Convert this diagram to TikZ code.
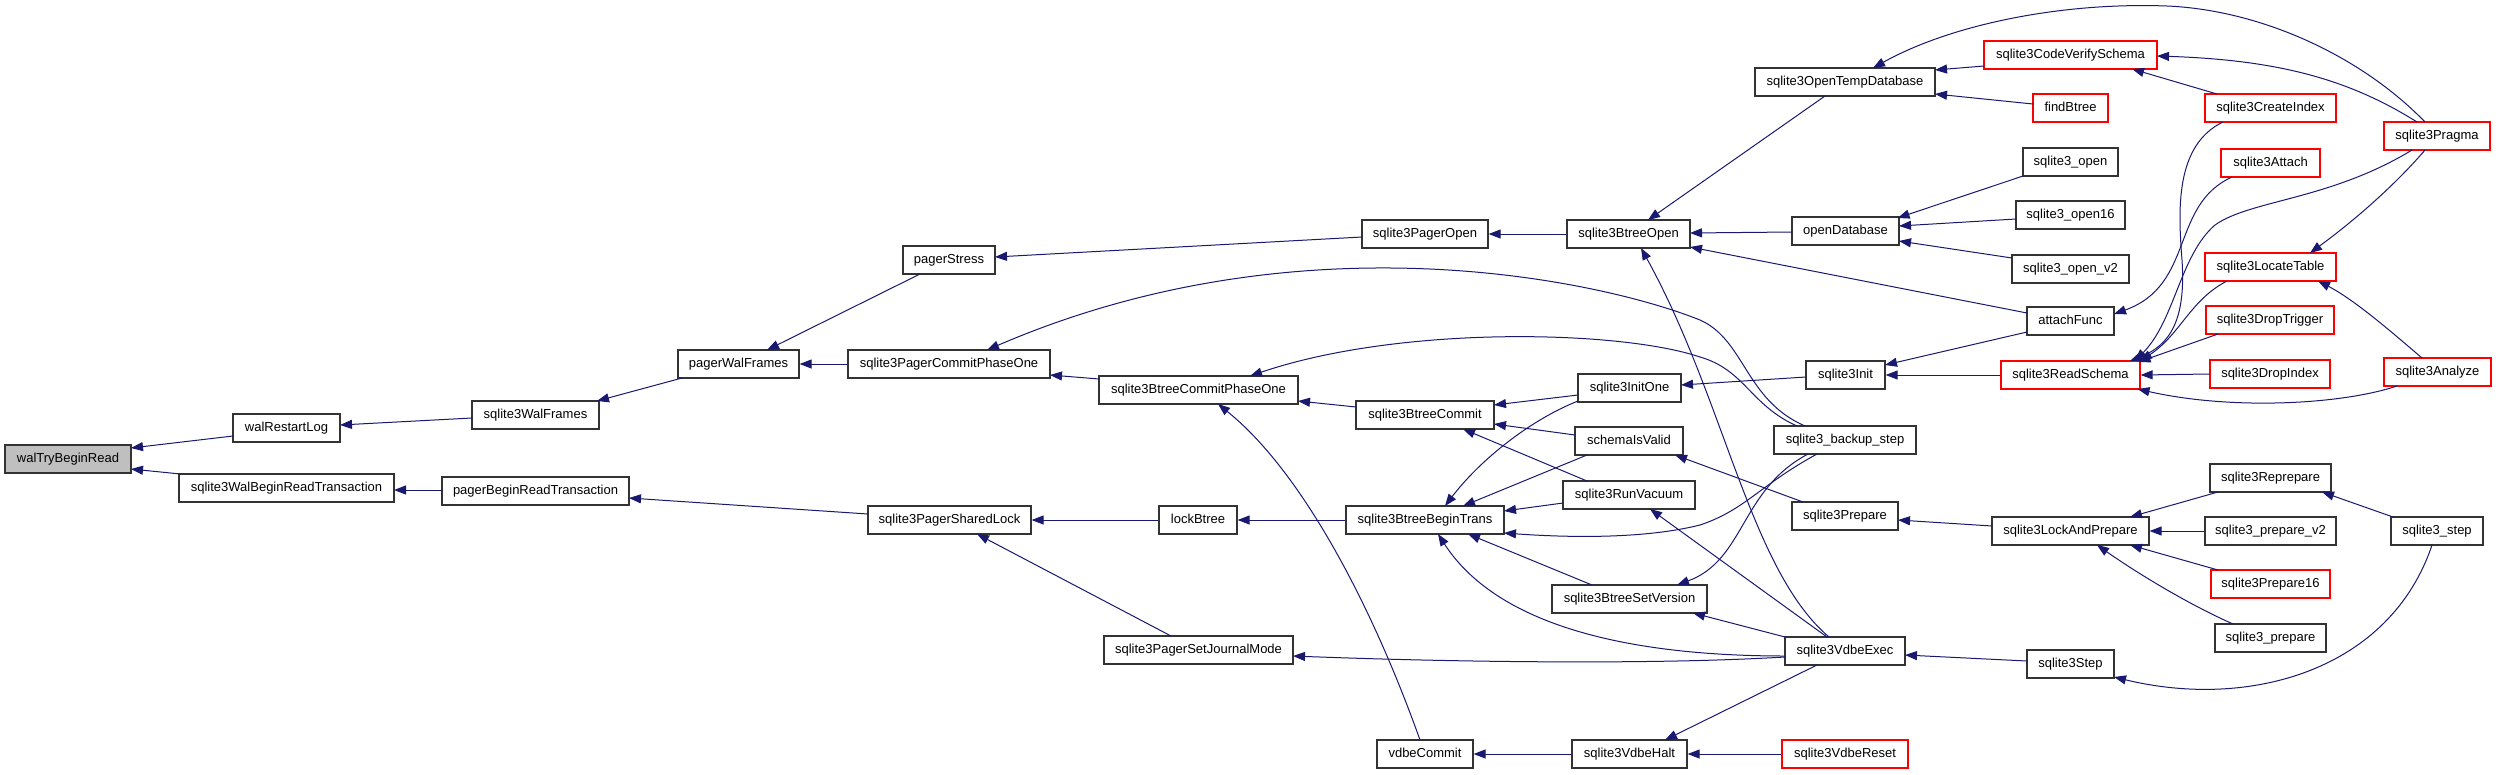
\documentclass[tikz,border=0pt]{standalone}
\usepackage{fontspec}
\setmainfont{Liberation Sans}
\usetikzlibrary{arrows.meta}
\definecolor{edgecol}{HTML}{191970}
\definecolor{boxcol}{HTML}{333333}
\definecolor{redcol}{HTML}{FF0000}
\definecolor{rootfill}{HTML}{BFBFBF}
\begin{document}
\begin{tikzpicture}[x=1pt,y=-1pt,
 fn/.style={draw=boxcol,line width=1.2pt,fill=white,minimum height=28pt,inner sep=0pt,font=\fontsize{13}{13}\selectfont,text height=9.5pt,text depth=2.5pt},
 rd/.style={fn,draw=redcol},
 rootn/.style={fn,fill=rootfill},
 conn/.style={draw=edgecol,line width=1pt,-{Triangle[length=12pt,width=9pt]}}]
\useasboundingbox[fill=white] (0,0) rectangle (2496,774);
\node[rootn,minimum width=126pt] (R) at (68,459) {walTryBeginRead};
\node[fn,minimum width=107pt] (wrl) at (286.5,428) {walRestartLog};
\node[fn,minimum width=215pt] (wbr) at (286.5,488) {sqlite3WalBeginReadTransaction};
\node[fn,minimum width=127pt] (wf) at (535.5,415) {sqlite3WalFrames};
\node[fn,minimum width=187pt] (pbr) at (535.5,491) {pagerBeginReadTransaction};
\node[fn,minimum width=121pt] (pwf) at (738.5,364) {pagerWalFrames};
\node[fn,minimum width=92pt] (ps) at (949,260) {pagerStress};
\node[fn,minimum width=202pt] (pcp) at (949,364) {sqlite3PagerCommitPhaseOne};
\node[fn,minimum width=163pt] (psl) at (949.5,520) {sqlite3PagerSharedLock};
\node[fn,minimum width=126pt] (po) at (1425,234) {sqlite3PagerOpen};
\node[fn,minimum width=199pt] (bcp) at (1198.5,390) {sqlite3BtreeCommitPhaseOne};
\node[fn,minimum width=78pt] (lb) at (1198,520) {lockBtree};
\node[fn,minimum width=189pt] (sjm) at (1198.5,650) {sqlite3PagerSetJournalMode};
\node[fn,minimum width=138pt] (bc) at (1425,415) {sqlite3BtreeCommit};
\node[fn,minimum width=158pt] (bbt) at (1425,520) {sqlite3BtreeBeginTrans};
\node[fn,minimum width=96pt] (vc) at (1425,754) {vdbeCommit};
\node[fn,minimum width=123pt] (bo) at (1628.5,234) {sqlite3BtreeOpen};
\node[fn,minimum width=103pt] (io) at (1629.5,388) {sqlite3InitOne};
\node[fn,minimum width=108pt] (siv) at (1629,441) {schemaIsValid};
\node[fn,minimum width=132pt] (rv) at (1629,495) {sqlite3RunVacuum};
\node[fn,minimum width=155pt] (bsv) at (1629.5,599) {sqlite3BtreeSetVersion};
\node[fn,minimum width=115pt] (vh) at (1629.5,754) {sqlite3VdbeHalt};
\node[fn,minimum width=180pt] (otd) at (1845,82) {sqlite3OpenTempDatabase};
\node[fn,minimum width=107pt] (od) at (1845.5,231) {openDatabase};
\node[fn,minimum width=79pt] (si) at (1845.5,375) {sqlite3Init};
\node[fn,minimum width=142pt] (bks) at (1845,440) {sqlite3\_backup\_step};
\node[fn,minimum width=106pt] (sp) at (1845,516) {sqlite3Prepare};
\node[fn,minimum width=120pt] (ve) at (1845,651) {sqlite3VdbeExec};
\node[rd,minimum width=126pt] (vr) at (1845,754) {sqlite3VdbeReset};
\node[rd,minimum width=173pt] (cvs) at (2070.5,55) {sqlite3CodeVerifySchema};
\node[rd,minimum width=75pt] (fb) at (2070.5,108) {findBtree};
\node[fn,minimum width=95pt] (so) at (2070.5,162) {sqlite3\_open};
\node[fn,minimum width=109pt] (so16) at (2070.5,215) {sqlite3\_open16};
\node[fn,minimum width=117pt] (sov2) at (2070.5,269) {sqlite3\_open\_v2};
\node[fn,minimum width=87pt] (af) at (2070.5,321) {attachFunc};
\node[rd,minimum width=139pt] (rs) at (2070.5,375) {sqlite3ReadSchema};
\node[fn,minimum width=157pt] (lap) at (2070.5,531) {sqlite3LockAndPrepare};
\node[fn,minimum width=87pt] (st) at (2070.5,664) {sqlite3Step};
\node[rd,minimum width=131pt] (ci) at (2270.5,108) {sqlite3CreateIndex};
\node[rd,minimum width=99pt] (at) at (2270.5,163) {sqlite3Attach};
\node[rd,minimum width=131pt] (lt) at (2270.5,267) {sqlite3LocateTable};
\node[rd,minimum width=128pt] (dt) at (2270,320) {sqlite3DropTrigger};
\node[rd,minimum width=120pt] (di) at (2270,374) {sqlite3DropIndex};
\node[fn,minimum width=121pt] (rp) at (2270.5,478) {sqlite3Reprepare};
\node[fn,minimum width=131pt] (pv2) at (2270.5,531) {sqlite3\_prepare\_v2};
\node[rd,minimum width=119pt] (p16) at (2270.5,584) {sqlite3Prepare16};
\node[fn,minimum width=111pt] (pp) at (2270.5,638) {sqlite3\_prepare};
\node[rd,minimum width=106pt] (pr) at (2437,136) {sqlite3Pragma};
\node[rd,minimum width=107pt] (an) at (2437.5,372) {sqlite3Analyze};
\node[fn,minimum width=92pt] (s3s) at (2437,531) {sqlite3\_step};

\draw[conn] ([shift={(-53.5,8)}]wrl.center) -- ([shift={(63,-11)}]R.center);
\draw[conn] ([shift={(-106,-14)}]wbr.center) -- ([shift={(63,10)}]R.center);
\draw[conn] ([shift={(-63.5,3)}]wf.center) -- ([shift={(53.5,-3)}]wrl.center);
\draw[conn] ([shift={(-93.5,-1)}]pbr.center) -- ([shift={(107.5,2)}]wbr.center);
\draw[conn] ([shift={(-56.5,14)}]pwf.center) -- ([shift={(61.5,-14)}]wf.center);
\draw[conn] ([shift={(-29,14)}]ps.center) -- ([shift={(28.5,-14)}]pwf.center);
\draw[conn] (pcp.west) -- (pwf.east);
\draw[conn] ([shift={(-63,3)}]po.center) -- ([shift={(46,-3)}]ps.center);
\draw[conn] ([shift={(-99.5,-11)}]bcp.center) -- ([shift={(101,11)}]pcp.center);
\draw[conn] ([shift={(-40,-14)}]bks.center) .. controls (1745,400) and (1745,340) .. (1700,320) .. controls (1600,280) and (1300,215) .. ([shift={(38,-14)}]pcp.center);
\draw[conn] ([shift={(-48,-14)}]bks.center) .. controls (1750,405) and (1745,370) .. (1700,357) .. controls (1620,330) and (1400,325) .. ([shift={(51.5,-14)}]bcp.center);
\draw[conn] ([shift={(-69,-8)}]bc.center) -- ([shift={(99.5,11)}]bcp.center);
\draw[conn] ([shift={(-5,-14)}]vc.center) .. controls (1370,600) and (1300,470) .. ([shift={(19.5,14)}]bcp.center);
\draw[conn] ([shift={(-51.5,7)}]io.center) -- ([shift={(69,-10)}]bc.center);
\draw[conn] ([shift={(-54,-6)}]siv.center) -- ([shift={(69,9)}]bc.center);
\draw[conn] ([shift={(-42,-14)}]rv.center) -- ([shift={(38,14)}]bc.center);
\draw[conn] (lb.west) -- (psl.east);
\draw[conn] ([shift={(-27.5,-14)}]sjm.center) -- ([shift={(27.5,14)}]psl.center);
\draw[conn] (bbt.west) -- (lb.east);
\draw[conn] ([shift={(-60,6)}]ve.center) .. controls (1650,665) and (1450,662) .. ([shift={(94.5,6)}]sjm.center);
\draw[conn] ([shift={(-51.5,13)}]io.center) .. controls (1530,420) and (1480,460) .. ([shift={(20,-14)}]bbt.center);
\draw[conn] ([shift={(-42,14)}]siv.center) -- ([shift={(38,-14)}]bbt.center);
\draw[conn] ([shift={(-66,8)}]rv.center) -- ([shift={(79,-9)}]bbt.center);
\draw[conn] ([shift={(-28,14)}]bks.center) .. controls (1760,485) and (1745,510) .. (1700,525) .. controls (1640,540) and (1560,537) .. ([shift={(79,13)}]bbt.center);
\draw[conn] ([shift={(-37.5,-14)}]bsv.center) -- ([shift={(43,14)}]bbt.center);
\draw[conn] ([shift={(-60,5)}]ve.center) .. controls (1640,656) and (1500,630) .. ([shift={(13,14)}]bbt.center);
\draw[conn] (bo.west) -- (po.east);
\draw[conn] ([shift={(-20,14)}]otd.center) -- ([shift={(19.5,-14)}]bo.center);
\draw[conn] ([shift={(-53.5,1)}]od.center) -- ([shift={(61.5,-1)}]bo.center);
\draw[conn] ([shift={(-43.5,-8)}]af.center) -- ([shift={(61.5,13)}]bo.center);
\draw[conn] ([shift={(-16,-14)}]ve.center) .. controls (1750,570) and (1725,400) .. ([shift={(12.5,14)}]bo.center);
\draw[conn] ([shift={(-39.5,2)}]si.center) -- ([shift={(51.5,-3)}]io.center);
\draw[conn] ([shift={(-42,-14)}]sp.center) -- ([shift={(46,14)}]siv.center);
\draw[conn] ([shift={(-18,-14)}]ve.center) -- ([shift={(21,14)}]rv.center);
\draw[conn] ([shift={(-37,14)}]bks.center) .. controls (1740,490) and (1745,560) .. ([shift={(47.5,-14)}]bsv.center);
\draw[conn] ([shift={(-60,-14)}]ve.center) -- ([shift={(63.5,14)}]bsv.center);
\draw[conn] ([shift={(-28,14)}]ve.center) -- ([shift={(35.5,-14)}]vh.center);
\draw[conn] (vh.west) -- (vc.east);
\draw[conn] (vr.west) -- (vh.east);
\draw[conn] ([shift={(-78.5,-5)}]lap.center) -- ([shift={(53,4)}]sp.center);
\draw[conn] ([shift={(-43.5,-3)}]st.center) -- ([shift={(60,4)}]ve.center);
\draw[conn] (rs.west) -- (si.east);
\draw[conn] ([shift={(-43.5,11)}]af.center) -- ([shift={(39.5,-10)}]si.center);
\draw[conn] ([shift={(-86.5,11)}]cvs.center) -- ([shift={(90,-12)}]otd.center);
\draw[conn] ([shift={(-37.5,-4)}]fb.center) -- ([shift={(90,12)}]otd.center);
\draw[conn] ([shift={(-12,-14)}]pr.center) .. controls (2360,55) and (2260,10) .. (2167,6) .. controls (2060,2) and (1950,25) .. ([shift={(28,-14)}]otd.center);
\draw[conn] ([shift={(-53.5,-14)}]ci.center) -- ([shift={(61.5,14)}]cvs.center);
\draw[conn] ([shift={(-20,-14)}]pr.center) .. controls (2350,80) and (2280,60) .. ([shift={(86.5,1)}]cvs.center);
\draw[conn] ([shift={(-47.5,14)}]ci.center) .. controls (2175,145) and (2178,210) .. (2182,260) .. controls (2186,320) and (2170,345) .. ([shift={(59.5,-14)}]rs.center);
\draw[conn] ([shift={(-38.5,14)}]at.center) .. controls (2170,205) and (2195,285) .. ([shift={(43.5,-7)}]af.center);
\draw[conn] ([shift={(-25,14)}]pr.center) .. controls (2330,200) and (2250,200) .. (2215,225) .. controls (2180,255) and (2175,320) .. ([shift={(64.5,-14)}]rs.center);
\draw[conn] ([shift={(-12,14)}]pr.center) .. controls (2395,185) and (2355,220) .. ([shift={(39.5,-14)}]lt.center);
\draw[conn] ([shift={(-43.5,14)}]lt.center) .. controls (2190,300) and (2180,335) .. ([shift={(69.5,-14)}]rs.center);
\draw[conn] ([shift={(-52,14)}]dt.center) -- ([shift={(68,-13)}]rs.center);
\draw[conn] (di.west) -- (rs.east);
\draw[conn] ([shift={(-40.5,14)}]an.center) .. controls (2340,405) and (2230,410) .. ([shift={(67,14)}]rs.center);
\draw[conn] ([shift={(-15.5,-14)}]an.center) .. controls (2395,335) and (2355,300) .. ([shift={(47.5,14)}]lt.center);
\draw[conn] ([shift={(-52.5,14)}]rp.center) -- ([shift={(59.5,-14)}]lap.center);
\draw[conn] (pv2.west) -- (lap.east);
\draw[conn] ([shift={(-52.5,-14)}]p16.center) -- ([shift={(59.5,14)}]lap.center);
\draw[conn] ([shift={(-37.5,-14)}]pp.center) .. controls (2190,605) and (2140,575) .. ([shift={(26.5,14)}]lap.center);
\draw[conn] ([shift={(-44,-14)}]s3s.center) -- ([shift={(51.5,14)}]rp.center);
\draw[conn] ([shift={(-5,14)}]s3s.center) .. controls (2390,670) and (2250,710) .. ([shift={(43.5,13)}]st.center);
\draw[conn] ([shift={(-47.5,14)}]so.center) -- ([shift={(52,-13)}]od.center);
\draw[conn] ([shift={(-54.5,4)}]so16.center) -- ([shift={(53.5,-5)}]od.center);
\draw[conn] ([shift={(-58.5,-11)}]sov2.center) -- ([shift={(53.5,10)}]od.center);
\draw[conn] ([shift={(-81.5,-6)}]psl.center) -- ([shift={(93.5,7)}]pbr.center);
\end{tikzpicture}
\end{document}
